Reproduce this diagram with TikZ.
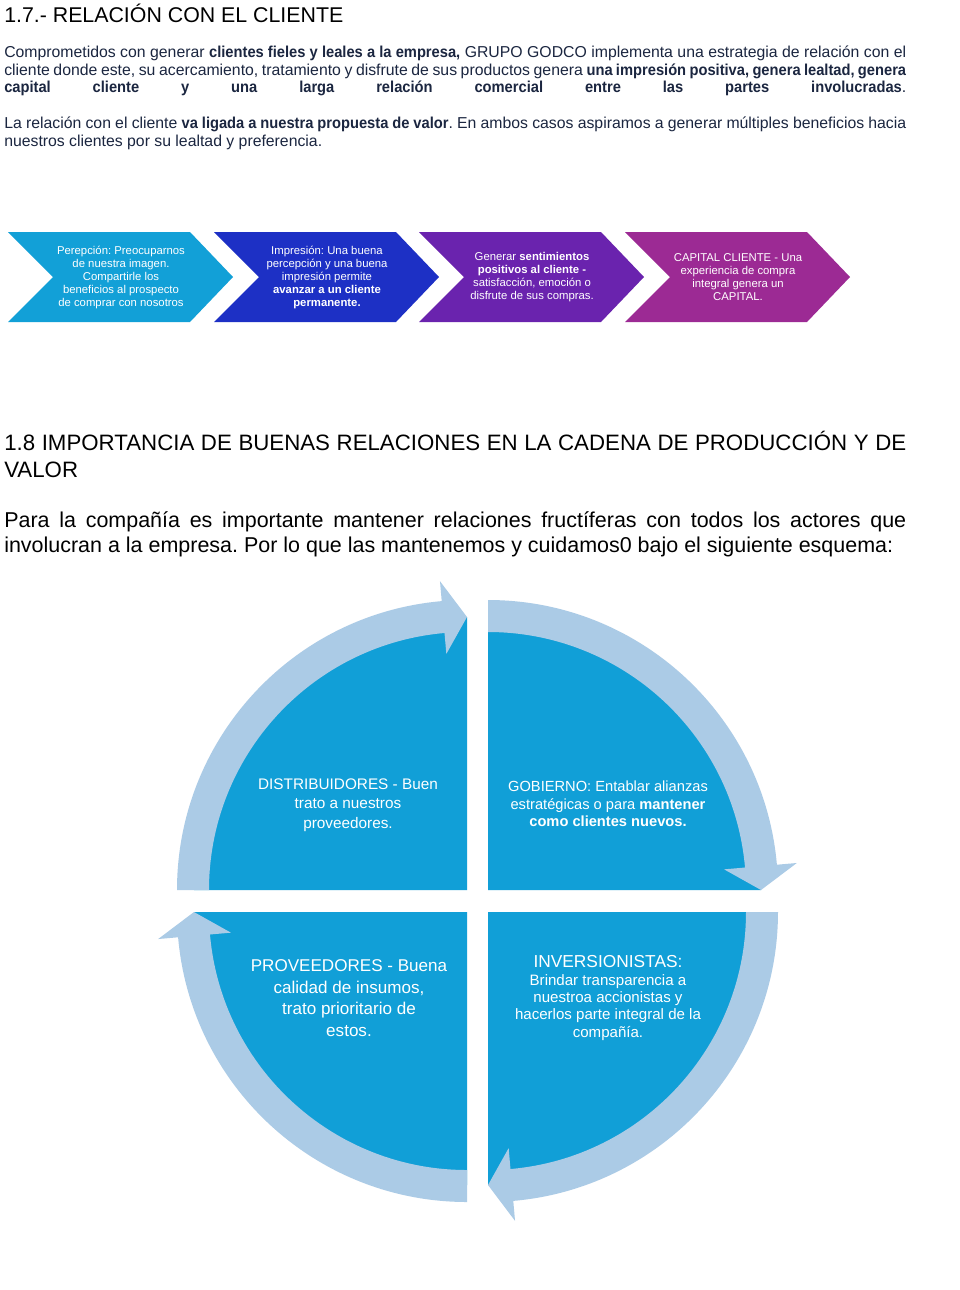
\documentclass[tikz,border=0pt]{standalone}
\usepackage{fontspec}
\setmainfont{Liberation Sans}
\newfontfamily\bodyfont{Liberation Sans}[BoldFeatures={FakeStretch=0.93}]
\definecolor{navytext}{RGB}{27,38,64}
\definecolor{chevA}{RGB}{18,160,215}
\definecolor{chevB}{RGB}{29,48,197}
\definecolor{chevC}{RGB}{106,35,174}
\definecolor{chevD}{RGB}{156,42,148}
\definecolor{pieblue}{RGB}{17,159,215}
\definecolor{bandblue}{RGB}{171,203,230}
\newcommand{\fullline}[1]{\makebox[676.5pt][s]{#1}}
\frenchspacing
\begin{document}
\begin{tikzpicture}[x=0.75pt,y=0.75pt,
  bodytext/.style={anchor=base west,inner sep=0pt,text=navytext,font=\bodyfont\fontsize{11.85}{13.3}\selectfont},
  headtext/.style={anchor=base west,inner sep=0pt,text=black,font=\fontsize{16.7}{20}\selectfont},
  chevtext/.style={text=white,align=center,inner sep=0pt,font=\fontsize{8.5}{9.75}\selectfont},
  quadtext/.style={text=white,align=center,inner sep=0pt}]
  \fill[white] (0,0) rectangle (960,-1290);
  \useasboundingbox (0,0) rectangle (960,-1290);
  % 1.7
  \node[headtext,font=\fontsize{16}{19}\selectfont] (tit17) at (4,-22) {1.7.- RELACIÓN CON EL CLIENTE};
  \node[bodytext] (pa1) at (4,-57.5) {\fullline{Comprometidos con generar \textbf{clientes fieles y leales a la empresa,} GRUPO GODCO implementa una estrategia de relación con el}};
  \node[bodytext] (pa2) at (4,-75) {\fullline{cliente donde este, su acercamiento, tratamiento y disfrute de sus productos genera \textbf{una impresión positiva, genera lealtad, genera}}};
  \node[bodytext] (pa3) at (4,-92.7) {\fullline{\textbf{capital cliente y una larga relación comercial entre las partes involucradas}.}};
  \node[bodytext] (pb1) at (4,-128) {\fullline{La relación con el cliente \textbf{va ligada a nuestra propuesta de valor}. En ambos casos aspiramos a generar múltiples beneficios hacia}};
  \node[bodytext] (pb2) at (4,-146) {nuestros clientes por su lealtad y preferencia.};
  % chevrons
  \foreach \x/\c in {8/chevA,214/chevB,419/chevC,625/chevD}{
    \fill[\c] (\x,-232) -- ++(182,0) -- ++(43,-45) -- ++(-43,-45) -- ++(-182,0) -- ++(45,45) -- cycle;
  }
  \node[chevtext] (perc) at (121,-277) {Perepción: Preocuparnos\\de nuestra imagen.\\Compartirle los\\beneficios al prospecto\\de comprar con nosotros};
  \node[chevtext] (impr) at (327,-277) {Impresión: Una buena\\percepción y una buena\\impresión permite\\\textbf{avanzar a un cliente}\\\textbf{permanente.}};
  \node[chevtext] (sent) at (532,-277) {Generar \textbf{sentimientos}\\\textbf{positivos al cliente -}\\satisfacción, emoción o\\disfrute de sus compras.};
  \node[chevtext] (capi) at (738,-277) {CAPITAL CLIENTE - Una\\experiencia de compra\\integral genera un\\CAPITAL.};
  % 1.8
  \node[headtext] (tit18a) at (4,-450) {\fullline{1.8 IMPORTANCIA DE BUENAS RELACIONES EN LA CADENA DE PRODUCCIÓN Y DE}};
  \node[headtext] (tit18b) at (4,-477) {VALOR};
  \node[headtext,font=\fontsize{16.1}{19}\selectfont] (pc1) at (4,-527) {\fullline{Para la compañía es importante mantener relaciones fructíferas con todos los actores que}};
  \node[headtext,font=\fontsize{16.1}{19}\selectfont] (pc2) at (4,-552) {involucran a la empresa. Por lo que las mantenemos y cuidamos0 bajo el siguiente esquema:};
  % four quarters with their curved arrows
  \foreach \cx/\cy/\r in {467/890/0,488/890/-90,488/912/-180,467/912/90}{
    \begin{scope}[shift={(\cx,-\cy)},rotate=\r]
      \fill[pieblue] (0,0) -- (180:273) arc[start angle=180,end angle=90,radius=273] -- cycle;
      \fill[bandblue] (180:290) arc[start angle=180,end angle=95,radius=290] -- (95:310) -- (90:273)
        -- (95:237) -- (95:258) arc[start angle=95,end angle=180,radius=258] -- cycle;
    \end{scope}
  }
  \node[quadtext,font=\fontsize{11.5}{14.6}\selectfont] (dist) at (348,-805) {DISTRIBUIDORES - Buen\\trato a nuestros\\proveedores.};
  \node[quadtext,font=\fontsize{11}{13.1}\selectfont] (gob) at (608,-804) {GOBIERNO: Entablar alianzas\\estratégicas o para \textbf{mantener}\\\textbf{como clientes nuevos.}};
  \node[quadtext,font=\fontsize{12.8}{16.1}\selectfont] (prov) at (349,-998) {PROVEEDORES - Buena\\calidad de insumos,\\trato prioritario de\\estos.};
  \node[quadtext,font=\fontsize{11.3}{13.1}\selectfont] (inv) at (608,-998) {{\fontsize{13}{15}\selectfont INVERSIONISTAS:}\\Brindar transparencia a\\nuestroa accionistas y\\hacerlos parte integral de la\\compañía.};
\end{tikzpicture}
\end{document}
